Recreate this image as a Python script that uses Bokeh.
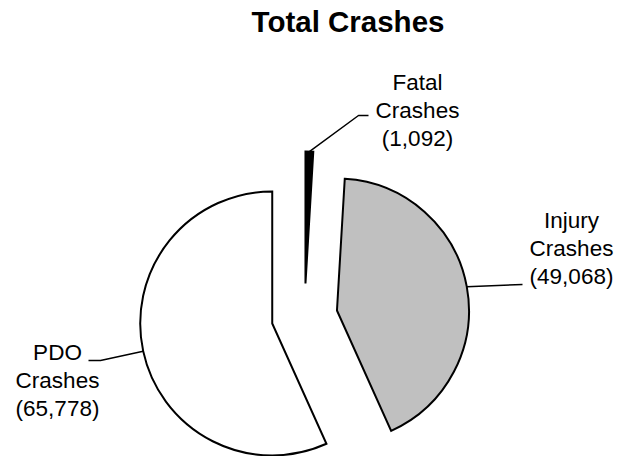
import math
from bokeh.plotting import figure
from bokeh.models import Range1d
from bokeh.core.properties import value
from bokeh.embed import file_html
from bokeh.resources import INLINE

# ---- data ----
categories = ["Fatal", "Injury", "PDO"]
counts = [1092, 49068, 65778]
label_lines = [["Fatal", "Crashes", "(1,092)"],
               ["Injury", "Crashes", "(49,068)"],
               ["PDO", "Crashes", "(65,778)"]]
title_text = "Total Crashes"

# ---- style / layout ----
fills = ["#000000", "#C0C0C0", "#FFFFFF"]
W, H = 621, 456
PAGE_H = 456
CX, CY = 304, PAGE_H - 316      # pie centre (data coords)
R = 132                          # radius
EXPLODE = 33                     # explosion offset
FONT = "Liberation Sans"
LINE_STEP = 28
# label anchors: (centre x, first-line text y in page px)
label_anchor = [(417, 82), (571, 220), (57, 352)]
# leader-line points after the arc point (page px)
leader_tail = [[(358, 115), (368, 115)],
               [(522, 284)],
               [(100, 360), (88, 360)]]

p = figure(width=W, height=H, output_backend="svg", toolbar_location=None,
           x_range=Range1d(0, W), y_range=Range1d(PAGE_H - H, PAGE_H),
           x_axis_type=None, y_axis_type=None, min_border=0)
p.min_border_left = p.min_border_right = p.min_border_top = p.min_border_bottom = 0
p.xgrid.visible = False
p.ygrid.visible = False
p.outline_line_color = None
p.background_fill_color = "white"
p.border_fill_color = "white"

total = sum(counts)
angle = 90.0
for i, c in enumerate(counts):
    sweep = c / total * 360.0
    end = angle
    start = angle - sweep
    mid = math.radians((start + end) / 2)
    ox = CX + EXPLODE * math.cos(mid)
    oy = CY + EXPLODE * math.sin(mid)
    p.wedge(x=[ox], y=[oy], radius=R, start_angle=[math.radians(start)],
            end_angle=[math.radians(end)], direction="anticlock",
            fill_color=fills[i], line_color="black", line_width=2,
            line_join="miter")
    # leader line from arc midpoint to label
    ax = ox + R * math.cos(mid)
    ay = oy + R * math.sin(mid)
    xs = [ax] + [pt[0] for pt in leader_tail[i]]
    ys = [ay] + [PAGE_H - pt[1] for pt in leader_tail[i]]
    p.line(xs, ys, line_color="black", line_width=1.5)
    lx, ly = label_anchor[i]
    for j, t in enumerate(label_lines[i]):
        p.text(x=[lx], y=[PAGE_H - ly - j * LINE_STEP], text=[t],
               text_font=value(FONT), text_font_size="22.5px",
               text_align="center", text_baseline="alphabetic", text_color="black")
    angle = start

p.text(x=[347.5], y=[PAGE_H - 21], text=[title_text], text_font=value(FONT),
       text_font_size="29.5px", text_font_style="bold", text_align="center",
       text_baseline="alphabetic", text_color="black")

open("out.html", "w").write(file_html(p, INLINE))
